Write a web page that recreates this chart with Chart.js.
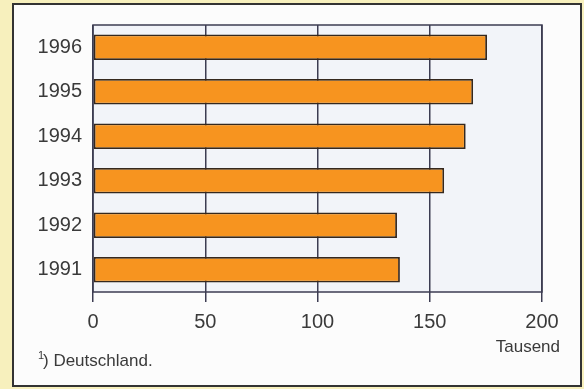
<!DOCTYPE html>
<html lang="de">
<head>
    <meta charset="UTF-8">
    <title>Tausend</title>
    <script src="https://cdn.jsdelivr.net/npm/chart.js"></script>
    <style>
        html, body { margin: 0; padding: 0; }
        body { width: 584px; height: 389px; background: #f7f0bd; position: relative; overflow: hidden; }
        .rahmen { position: absolute; left: 12px; top: 3px; width: 566px; height: 380px; border: 2px solid #333333; background: #fcfcfc; }
        #grafico { position: absolute; left: 0; top: 0; }
    </style>
</head>
<body>
    <div class="rahmen"></div>
    <canvas id="grafico" width="584" height="389"></canvas>

<script>
    // Werte in Tausend
    var jahre = ['1996', '1995', '1994', '1993', '1992', '1991'];
    var werte = [175.5, 169.3, 166, 156.4, 135.4, 136.7];
    var xTicks = [0, 50, 100, 150, 200];

    var textFarbe = '#3a3a3a';
    var linienFarbe = '#3c3c52';

    // Hintergrund und Rahmen der Zeichenfläche, Fußnote und Einheit
    var extras = {
        id: 'extras',
        beforeDraw: function (chart) {
            var a = chart.chartArea;
            var ctx = chart.ctx;
            ctx.save();
            ctx.fillStyle = '#f2f4f9';
            ctx.fillRect(a.left, a.top, a.right - a.left, a.bottom - a.top);
            ctx.restore();
        },
        afterDraw: function (chart) {
            var a = chart.chartArea;
            var ctx = chart.ctx;
            ctx.save();
            ctx.strokeStyle = linienFarbe;
            ctx.lineWidth = 1.5;
            ctx.strokeRect(a.left, a.top, a.right - a.left, a.bottom - a.top);

            ctx.fillStyle = textFarbe;
            ctx.font = '17px "Liberation Sans", Arial, sans-serif';
            ctx.textAlign = 'right';
            ctx.textBaseline = 'middle';
            ctx.fillText('Tausend', 560, 347);

            ctx.textAlign = 'left';
            ctx.font = '11px "Liberation Sans", Arial, sans-serif';
            ctx.fillText('1', 38, 356);
            ctx.font = '17px "Liberation Sans", Arial, sans-serif';
            ctx.fillText(') Deutschland.', 43, 361);
            ctx.restore();
        }
    };

    new Chart(document.getElementById('grafico').getContext('2d'), {
        type: 'bar',
        data: {
            labels: jahre,
            datasets: [{
                data: werte,
                backgroundColor: '#f7941f',
                borderColor: '#35281e',
                borderWidth: 1.8,
                borderSkipped: false,
                categoryPercentage: 1,
                barPercentage: 0.57
            }]
        },
        options: {
            indexAxis: 'y',
            responsive: false,
            animation: false,
            layout: { padding: { top: 25, right: 42, left: 0, bottom: 0 } },
            plugins: {
                legend: { display: false },
                tooltip: { enabled: false }
            },
            scales: {
                x: {
                    min: 0,
                    max: 200,
                    afterBuildTicks: function (axis) {
                        axis.ticks = xTicks.map(function (v) { return { value: v }; });
                    },
                    afterFit: function (axis) { axis.height = 97; },
                    grid: {
                        color: linienFarbe,
                        lineWidth: 1.5,
                        tickLength: 10,
                        drawTicks: true
                    },
                    border: { display: false },
                    ticks: {
                        color: textFarbe,
                        padding: 8,
                        maxRotation: 0,
                        font: { family: '"Liberation Sans", Arial, sans-serif', size: 20 }
                    }
                },
                y: {
                    afterFit: function (axis) { axis.width = 93; },
                    grid: { display: false, drawTicks: false },
                    border: { display: false },
                    ticks: {
                        color: textFarbe,
                        padding: 11,
                        font: { family: '"Liberation Sans", Arial, sans-serif', size: 20 }
                    }
                }
            }
        },
        plugins: [extras]
    });
</script>
</body>
</html>
